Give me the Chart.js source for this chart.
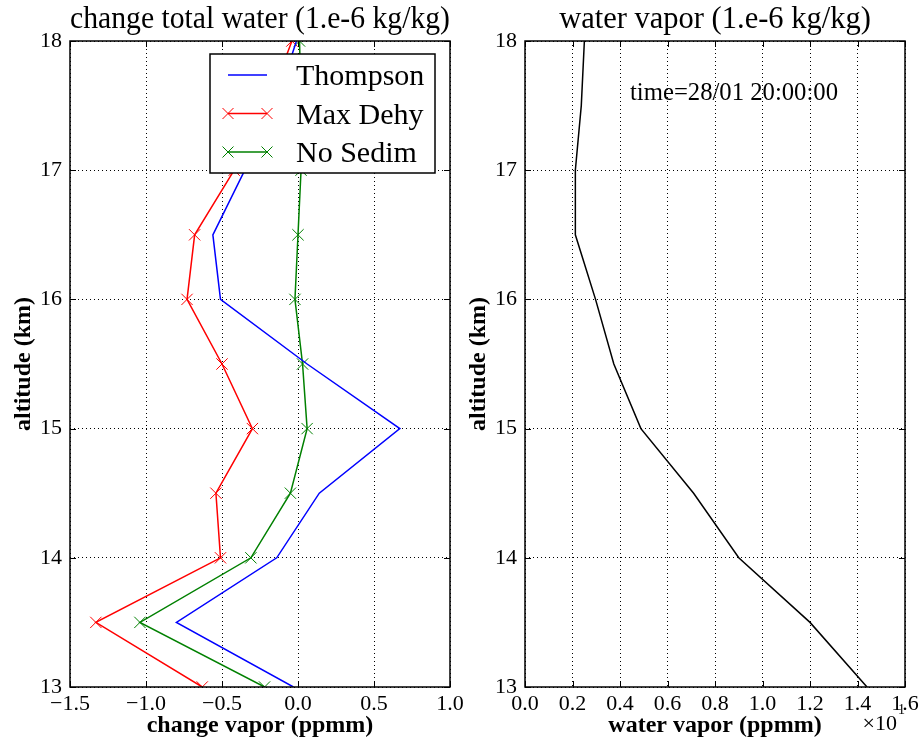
<!DOCTYPE html>
<html>
<head>
<meta charset="utf-8">
<script src="https://cdn.jsdelivr.net/npm/chart.js@4.4.1/dist/chart.umd.min.js"></script>
<style>
  body { margin: 0; background: #fff; overflow: hidden; }
  #left { position: absolute; left: 0; top: 0; width: 470px; height: 741px; }
  #right { position: absolute; left: 460px; top: 0; width: 459px; height: 741px; }
</style>
</head>
<body>
<div id="left"><canvas id="changeChart"></canvas></div>
<div id="right"><canvas id="vaporChart"></canvas></div>
<script>
// altitude levels (km)
const altitude = [13, 13.5, 14, 14.5, 15, 15.5, 16, 16.5, 17, 17.5, 18];

// change in total water (ppmm)
const thompson = [-0.03, -0.80, -0.14, 0.14, 0.67, 0.06, -0.51, -0.56, -0.35, -0.15, -0.01];
const maxDehy  = [-0.63, -1.33, -0.51, -0.54, -0.30, -0.50, -0.73, -0.68, -0.42, -0.20, -0.04];
const noSedim  = [-0.22, -1.04, -0.31, -0.05, 0.06, 0.03, -0.02, 0.00, 0.02, 0.02, 0.01];

// water vapor (ppmm)
const vapor = [14.4, 12.0, 9.0, 7.1, 4.88, 3.74, 2.97, 2.12, 2.12, 2.37, 2.5];

const yTicks = [13, 14, 15, 16, 17, 18];
const legendNames = ['Thompson', 'Max Dehy', 'No Sedim'];
const timeLabel = 'time=28/01 20:00:00';

const FONT = 'Liberation Serif';
Chart.defaults.font.family = FONT;
Chart.defaults.color = '#000';

function pairs(xs) {
  return xs.map((v, i) => ({ x: v, y: altitude[i] }));
}

function minusSign(s) {
  return s.replace('-', '\u2212');
}

function drawCross(ctx, x, y, r) {
  ctx.beginPath();
  ctx.moveTo(x - r, y - r); ctx.lineTo(x + r, y + r);
  ctx.moveTo(x - r, y + r); ctx.lineTo(x + r, y - r);
  ctx.stroke();
}

// matplotlib-like frame with inward ticks
const framePlugin = {
  id: 'frame',
  afterDraw(chart) {
    const ctx = chart.ctx;
    const a = chart.chartArea;
    const xs = chart.scales.x, ys = chart.scales.y;
    ctx.save();
    ctx.strokeStyle = '#000';
    ctx.lineWidth = 1;
    ctx.setLineDash([]);
    ctx.beginPath();
    xs.ticks.forEach(t => {
      const px = Math.round(xs.getPixelForValue(t.value)) + 0.5;
      ctx.moveTo(px, a.bottom); ctx.lineTo(px, a.bottom - 6);
      ctx.moveTo(px, a.top); ctx.lineTo(px, a.top + 6);
    });
    ys.ticks.forEach(t => {
      const py = Math.round(ys.getPixelForValue(t.value)) + 0.5;
      ctx.moveTo(a.left, py); ctx.lineTo(a.left + 6, py);
      ctx.moveTo(a.right, py); ctx.lineTo(a.right - 6, py);
    });
    ctx.stroke();
    ctx.lineWidth = 1.5;
    ctx.strokeRect(a.left, a.top, a.right - a.left, a.bottom - a.top);
    ctx.restore();
  }
};

const legendPlugin = {
  id: 'boxLegend',
  afterDraw(chart) {
    const ctx = chart.ctx;
    const a = chart.chartArea;
    const x0 = a.left + 140, y0 = a.top + 13, w = 225, h = 119;
    ctx.save();
    ctx.fillStyle = '#fff';
    ctx.fillRect(x0, y0, w, h);
    ctx.strokeStyle = '#000';
    ctx.lineWidth = 1.5;
    ctx.strokeRect(x0, y0, w, h);
    chart.data.datasets.forEach((ds, i) => {
      const y = y0 + 21 + i * 38.5;
      const l1 = x0 + 18, l2 = x0 + 57;
      ctx.strokeStyle = ds.borderColor;
      ctx.lineWidth = 1.5;
      ctx.beginPath();
      ctx.moveTo(l1, y); ctx.lineTo(l2, y);
      ctx.stroke();
      if (ds.pointRadius > 0) {
        ctx.lineWidth = 1;
        drawCross(ctx, l1, y, 5.5);
        drawCross(ctx, l2, y, 5.5);
      }
      ctx.fillStyle = '#000';
      ctx.font = '30px "' + FONT + '"';
      ctx.textBaseline = 'alphabetic';
      ctx.fillText(legendNames[i], x0 + 86, y + 10);
    });
    ctx.restore();
  }
};

const notePlugin = {
  id: 'notes',
  afterDraw(chart) {
    const ctx = chart.ctx;
    const a = chart.chartArea;
    ctx.save();
    ctx.fillStyle = '#000';
    ctx.textBaseline = 'alphabetic';
    ctx.font = '24.7px "' + FONT + '"';
    ctx.fillText(timeLabel, a.left + 105, a.top + 59);
    // offset text for the x axis
    ctx.font = '22px "' + FONT + '"';
    ctx.textAlign = 'right';
    ctx.fillText('\u00d710', a.right - 8, a.bottom + 43);
    ctx.font = '14px "' + FONT + '"';
    ctx.textAlign = 'left';
    ctx.fillText('1', a.right - 7, a.bottom + 27);
    ctx.restore();
  }
};

function baseOptions(title, xTitle, xMin, xMax, xStep, yWidth, yTitlePad, padRight, fmt) {
  return {
    responsive: true,
    maintainAspectRatio: false,
    animation: false,
    layout: { padding: { left: 0, right: padRight, top: 0, bottom: 0 } },
    plugins: {
      legend: { display: false },
      tooltip: { enabled: false },
      title: {
        display: true,
        text: title,
        fullSize: false,
        color: '#000',
        font: { family: FONT, size: 30.5, weight: 'normal' },
        padding: { top: 2, bottom: 2.4 }
      }
    },
    scales: {
      x: {
        type: 'linear',
        min: xMin, max: xMax,
        afterFit(scale) {
          scale.height = 54;
          scale.paddingLeft = 0;
          scale.paddingRight = 0;
        },
        ticks: {
          stepSize: xStep,
          maxRotation: 0,
          padding: 4,
          font: { family: FONT, size: 22 },
          callback: fmt
        },
        grid: { color: '#000', lineWidth: 1, drawTicks: false, borderDash: [1, 3] },
        border: { display: false, dash: [1, 3] },
        title: {
          display: true,
          text: xTitle,
          font: { family: FONT, size: 24, weight: 'bold' },
          padding: { top: 0, bottom: 1 }
        }
      },
      y: {
        type: 'linear',
        min: 13, max: 18,
        afterFit(scale) { scale.width = yWidth; },
        afterBuildTicks(scale) { scale.ticks = yTicks.map(v => ({ value: v })); },
        ticks: {
          padding: 8,
          font: { family: FONT, size: 22 },
          callback: v => String(v)
        },
        grid: { color: '#000', lineWidth: 1, drawTicks: false, borderDash: [1, 3] },
        border: { display: false, dash: [1, 3] },
        title: {
          display: true,
          text: 'altitude (km)',
          font: { family: FONT, size: 24, weight: 'bold' },
          padding: { top: yTitlePad, bottom: 0 }
        }
      }
    }
  };
}

new Chart(document.getElementById('changeChart'), {
  type: 'scatter',
  data: {
    datasets: [
      {
        label: legendNames[0], data: pairs(thompson), showLine: true,
        borderColor: '#0000ff', borderWidth: 1.5, pointRadius: 0, clip: 0
      },
      {
        label: legendNames[1], data: pairs(maxDehy), showLine: true,
        borderColor: '#ff0000', borderWidth: 1.5, pointStyle: 'crossRot',
        pointRadius: 8, pointBorderWidth: 1, pointBorderColor: '#ff0000', clip: 0
      },
      {
        label: legendNames[2], data: pairs(noSedim), showLine: true,
        borderColor: '#008000', borderWidth: 1.5, pointStyle: 'crossRot',
        pointRadius: 8, pointBorderWidth: 1, pointBorderColor: '#008000', clip: 0
      }
    ]
  },
  options: baseOptions('change total water (1.e-6 kg/kg)', 'change vapor (ppmm)',
    -1.5, 1.0, 0.5, 70, 9, 20, v => minusSign(Number(v).toFixed(1))),
  plugins: [framePlugin, legendPlugin]
});

new Chart(document.getElementById('vaporChart'), {
  type: 'scatter',
  data: {
    datasets: [
      {
        label: 'water vapor', data: pairs(vapor), showLine: true,
        borderColor: '#000', borderWidth: 1.5, pointRadius: 0, clip: 0
      }
    ]
  },
  options: baseOptions('water vapor (1.e-6 kg/kg)', 'water vapor (ppmm)',
    0, 16, 2, 65, 4, 14, v => (v / 10).toFixed(1)),
  plugins: [framePlugin, notePlugin]
});
</script>
</body>
</html>
